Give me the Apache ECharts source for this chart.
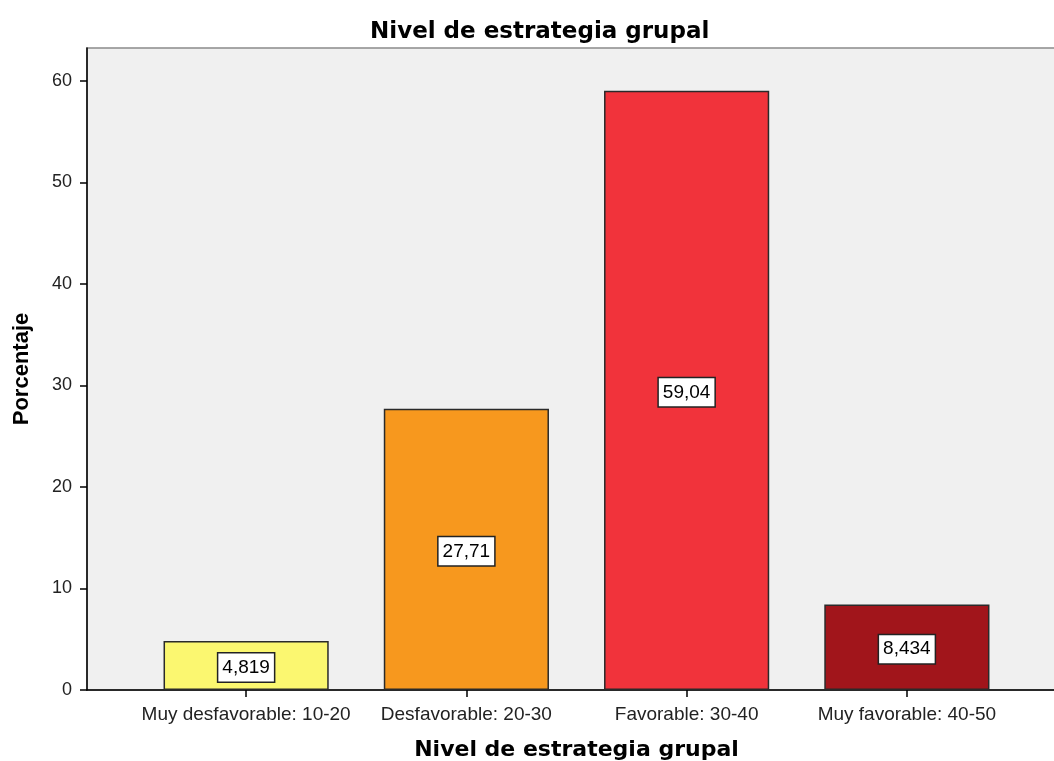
<!DOCTYPE html>
<html>
<head>
<meta charset="utf-8">
<script src="https://cdn.jsdelivr.net/npm/echarts@6/dist/echarts.min.js"></script>
<style>html,body{margin:0;padding:0;background:#fff}#c{width:1054px;height:761px}</style>
</head>
<body>
<div id="c"></div>
<script>
var categories = ['Muy desfavorable: 10-20', 'Desfavorable: 20-30', 'Favorable: 30-40', 'Muy favorable: 40-50'];
var values = [4.819, 27.71, 59.04, 8.434];
var valueLabels = ['4,819', '27,71', '59,04', '8,434'];
var barColors = ['#fbf770', '#f7981e', '#f1333b', '#a1151b'];
var yTicks = [0, 10, 20, 30, 40, 50, 60];

var chart = echarts.init(document.getElementById('c'), null, {renderer: 'canvas'});
var YMAX = 63.25;
var option = {
  animation: false,
  backgroundColor: '#ffffff',
  title: {
    text: 'Nivel de estrategia grupal',
    left: 365,
    top: 16,
    textStyle: {fontFamily: 'DejaVu Sans', fontWeight: 'bold', fontSize: 23, color: '#000'}
  },
  grid: [
    {left: 87, right: -3, top: 48, bottom: 71, containLabel: false, outerBoundsMode: 'none',
     show: true, backgroundColor: '#f0f0f0', borderColor: '#8a8a8a', borderWidth: 1.5},
    {left: 136, right: 37, top: 48, bottom: 71, containLabel: false, outerBoundsMode: 'none'}
  ],
  xAxis: [
    {
      gridIndex: 0, type: 'value', min: 0, max: 1,
      axisLine: {show: true, lineStyle: {color: '#000', width: 1.5}},
      axisTick: {show: false}, axisLabel: {show: false}, splitLine: {show: false}
    },
    {
      gridIndex: 1, type: 'category', data: categories,
      axisLine: {show: false},
      axisTick: {show: true, alignWithLabel: true, interval: 0, length: 7, lineStyle: {color: '#000', width: 1.5}},
      axisLabel: {fontFamily: 'Liberation Sans', fontSize: 19, color: '#222', margin: 15, interval: 0},
      splitLine: {show: false},
      name: 'Nivel de estrategia grupal', nameLocation: 'middle', nameGap: 49,
      nameTextStyle: {fontFamily: 'DejaVu Sans', fontWeight: 'bold', fontSize: 22, color: '#000'}
    }
  ],
  yAxis: [
    {
      gridIndex: 0, type: 'value', min: 0, max: YMAX, interval: 10,
      axisLine: {show: true, lineStyle: {color: '#000', width: 1.5}},
      axisTick: {show: true, length: 7, lineStyle: {color: '#000', width: 1.5}},
      axisLabel: {fontFamily: 'Liberation Sans', fontSize: 18, color: '#222', margin: 15, showMaxLabel: false,
        formatter: function (v) { return yTicks.indexOf(v) >= 0 ? String(v) : ''; }},
      splitLine: {show: false},
      name: 'Porcentaje', nameLocation: 'middle', nameGap: 54, nameRotate: 90,
      nameTextStyle: {fontFamily: 'Liberation Sans', fontWeight: 'bold', fontSize: 22, color: '#000'}
    },
    {
      gridIndex: 1, type: 'value', min: 0, max: YMAX, show: false
    }
  ],
  series: [{
    type: 'bar',
    xAxisIndex: 1, yAxisIndex: 1,
    barWidth: '75%',
    data: values.map(function (v, i) {
      return {value: v, itemStyle: {color: barColors[i]}};
    }),
    itemStyle: {borderColor: '#2a2a2a', borderWidth: 1.5},
    label: {
      show: true, position: 'inside', offset: [0, 2],
      formatter: function (p) { return valueLabels[p.dataIndex]; },
      fontFamily: 'Liberation Sans', fontSize: 19, color: '#000',
      backgroundColor: '#ffffff', borderColor: '#222', borderWidth: 1.5, padding: [5, 4, 4, 4]
    }
  }]
};
chart.setOption(option);
</script>
</body>
</html>
